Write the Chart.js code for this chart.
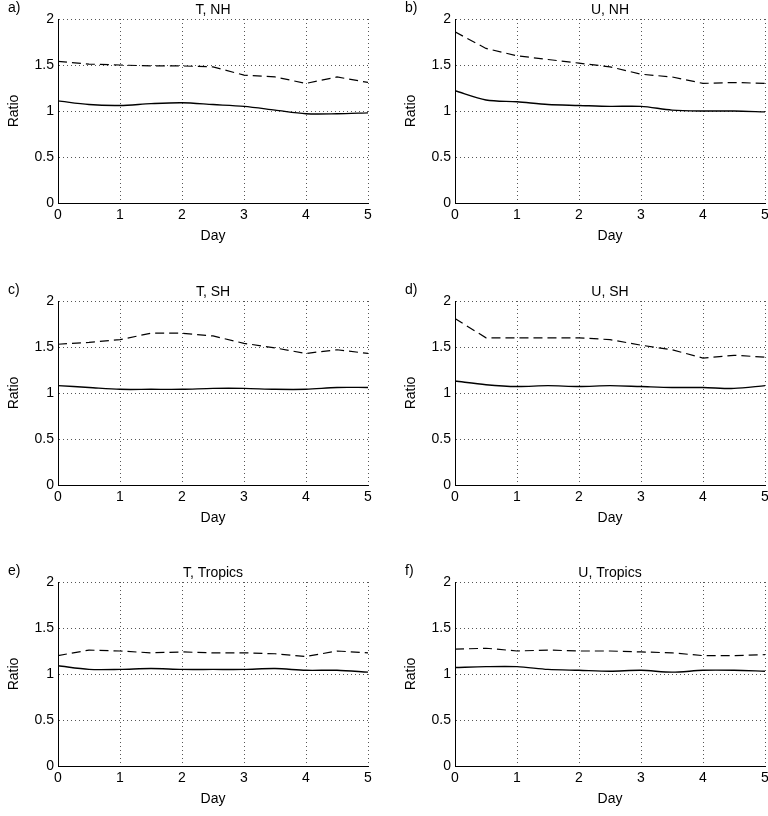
<!DOCTYPE html>
<html>
<head>
<meta charset="utf-8">
<script src="https://cdn.jsdelivr.net/npm/chart.js@4"></script>
<style>
body { margin: 0; background: #fff; }
.p { position: absolute; }
</style>
</head>
<body>
<script>
var days = [0, 0.5, 1, 1.5, 2, 2.5, 3, 3.5, 4, 4.5, 5];
var titles = ['T, NH', 'U, NH', 'T, SH', 'U, SH', 'T, Tropics', 'U, Tropics'];
var tags = ['a)', 'b)', 'c)', 'd)', 'e)', 'f)'];
var dashedA = [1.54, 1.51, 1.50, 1.49, 1.49, 1.48, 1.39, 1.37, 1.30, 1.37, 1.31];
var solidA  = [1.11, 1.07, 1.06, 1.08, 1.09, 1.07, 1.05, 1.01, 0.97, 0.97, 0.98];
var dashedB = [1.86, 1.68, 1.60, 1.56, 1.52, 1.48, 1.40, 1.37, 1.30, 1.31, 1.30];
var solidB  = [1.22, 1.12, 1.10, 1.07, 1.06, 1.05, 1.05, 1.01, 1.00, 1.00, 0.99];
var dashedC = [1.53, 1.55, 1.58, 1.65, 1.65, 1.62, 1.54, 1.49, 1.43, 1.47, 1.43];
var solidC  = [1.08, 1.06, 1.04, 1.04, 1.04, 1.05, 1.05, 1.04, 1.04, 1.06, 1.06];
var dashedD = [1.81, 1.60, 1.60, 1.60, 1.60, 1.58, 1.52, 1.47, 1.38, 1.41, 1.39];
var solidD  = [1.13, 1.09, 1.07, 1.08, 1.07, 1.08, 1.07, 1.06, 1.06, 1.05, 1.08];
var dashedE = [1.20, 1.26, 1.25, 1.23, 1.24, 1.23, 1.23, 1.22, 1.19, 1.25, 1.23];
var solidE  = [1.09, 1.05, 1.05, 1.06, 1.05, 1.05, 1.05, 1.06, 1.04, 1.04, 1.02];
var dashedF = [1.27, 1.28, 1.25, 1.26, 1.25, 1.25, 1.24, 1.23, 1.20, 1.20, 1.21];
var solidF  = [1.07, 1.08, 1.08, 1.05, 1.04, 1.03, 1.04, 1.02, 1.04, 1.04, 1.03];
var dashed = [dashedA, dashedB, dashedC, dashedD, dashedE, dashedF];
var solid = [solidA, solidB, solidC, solidD, solidE, solidF];

// plot area corners, left/top
var plotX = [58, 455];
var plotY = [19, 301, 582];
var plotW = 310, plotH = 184;
var padL = 52, padT = 19, padR = 10, padB = 46;

var font = "'Liberation Sans', Arial, sans-serif";
Chart.defaults.font.family = font;
Chart.defaults.color = '#000';

var labelPlugin = {
  id: 'panelLabels',
  afterDraw: function(chart) {
    var ctx = chart.ctx, a = chart.chartArea, o = chart.options.plugins.panelLabels;
    ctx.save();
    ctx.fillStyle = '#000';
    ctx.font = '14px ' + font;
    ctx.textAlign = 'center';
    ctx.textBaseline = 'bottom';
    ctx.fillText(o.title, (a.left + a.right) / 2, a.top - 2);
    ctx.textAlign = 'left';
    ctx.fillText(o.tag, 2, a.top - 4);
    ctx.restore();
  }
};

var axesPlugin = {
  id: 'axesLines',
  afterDraw: function(chart) {
    var ctx = chart.ctx, a = chart.chartArea;
    ctx.save();
    ctx.strokeStyle = '#000';
    ctx.lineWidth = 1;
    ctx.beginPath();
    ctx.moveTo(a.left + 0.5, a.top);
    ctx.lineTo(a.left + 0.5, a.bottom + 0.5);
    ctx.lineTo(a.right, a.bottom + 0.5);
    ctx.stroke();
    ctx.restore();
  }
};

for (var i = 0; i < 6; i++) {
  var col = i % 2, row = Math.floor(i / 2);
  var cv = document.createElement('canvas');
  var w = plotW + padL + padR, h = plotH + padT + padB;
  cv.className = 'p';
  cv.width = w;
  cv.height = h;
  cv.style.left = (plotX[col] - padL) + 'px';
  cv.style.top = (plotY[row] - padT) + 'px';
  document.body.appendChild(cv);
  new Chart(cv, {
    type: 'line',
    data: {
      datasets: [
        { data: days.map(function(d, k) { return { x: d, y: dashed[i][k] }; }),
          borderColor: '#000', borderWidth: 1.2, borderDash: [9, 5], pointRadius: 0, tension: 0 },
        { data: days.map(function(d, k) { return { x: d, y: solid[i][k] }; }),
          borderColor: '#000', borderWidth: 1.4, pointRadius: 0, tension: 0.3 }
      ]
    },
    options: {
      responsive: false,
      animation: false,
      devicePixelRatio: 1,
      layout: { padding: { top: padT, right: padR, left: 0, bottom: 0 } },
      plugins: {
        legend: { display: false },
        tooltip: { enabled: false },
        panelLabels: { title: titles[i], tag: tags[i] }
      },
      scales: {
        x: {
          type: 'linear', min: 0, max: 5,
          ticks: { stepSize: 1, font: { size: 14 }, maxRotation: 0, padding: 4 },
          grid: { color: '#555', lineWidth: 1, drawTicks: false },
          border: { display: true, color: '#000', dash: [1, 3] },
          title: { display: true, text: 'Day', font: { size: 14 }, padding: { top: 6 } },
          afterFit: function(s) { s.height = padB; }
        },
        y: {
          min: 0, max: 2,
          ticks: { stepSize: 0.5, font: { size: 14 }, padding: 4,
            callback: function(v) { return String(v); } },
          grid: { color: '#555', lineWidth: 1, drawTicks: false },
          border: { display: true, color: '#000', dash: [1, 3] },
          title: { display: true, text: 'Ratio', font: { size: 14 }, padding: 0 },
          afterFit: function(s) { s.width = padL; }
        }
      }
    },
    plugins: [labelPlugin, axesPlugin]
  });
}
</script>
</body>
</html>
